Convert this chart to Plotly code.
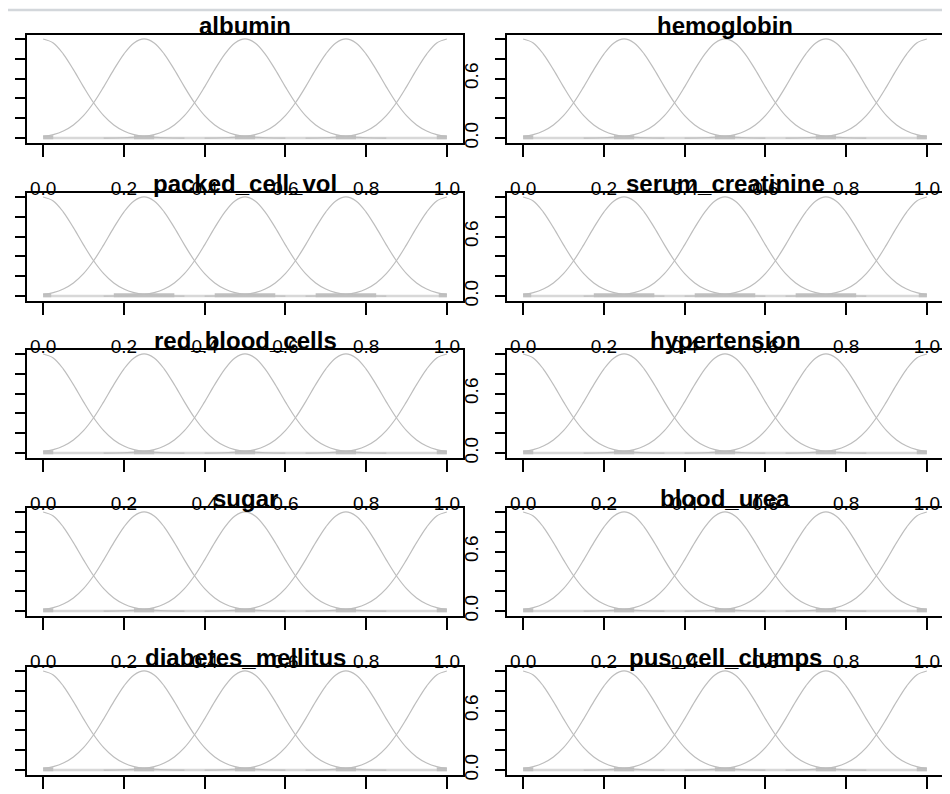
import plotly.graph_objects as go

# ---------------- data ----------------
panel_names = ["albumin", "hemoglobin", "packed_cell_vol", "serum_creatinine",
               "red_blood_cells", "hypertension", "sugar", "blood_urea",
               "diabetes_mellitus", "pus_cell_clumps"]

# centres of the five membership functions
mf_centers = [0.0, 0.25, 0.5, 0.75, 1.0]

# shape of one membership function (offset from centre -> degree)
bell_offsets = [-0.35, -0.3, -0.25, -0.225, -0.2, -0.175, -0.15, -0.125, -0.1, -0.075,
                -0.05, -0.025, 0.0, 0.025, 0.05, 0.075, 0.1, 0.125, 0.15, 0.175,
                0.2, 0.225, 0.25, 0.3, 0.35]
bell_values = [0.0, 0.003, 0.016, 0.035, 0.071, 0.132, 0.226, 0.356, 0.517, 0.690,
               0.848, 0.960, 1.0, 0.960, 0.848, 0.690, 0.517, 0.356, 0.226, 0.132,
               0.071, 0.035, 0.016, 0.003, 0.0]

# grey bands along the bottom of each panel (start, end) per panel
narrow_starts = [0.0, 0.225, 0.475, 0.725, 0.975]
narrow_ends = [0.025, 0.275, 0.525, 0.775, 1.0]
wide_starts = [0.0, 0.175, 0.425, 0.675, 0.98]
wide_ends = [0.02, 0.325, 0.575, 0.825, 1.0]
band_starts = [narrow_starts, narrow_starts, wide_starts, wide_starts, narrow_starts,
               narrow_starts, narrow_starts, narrow_starts, narrow_starts, narrow_starts]
band_ends = [narrow_ends, narrow_ends, wide_ends, wide_ends, narrow_ends,
             narrow_ends, narrow_ends, narrow_ends, narrow_ends, narrow_ends]

x_ticks = [0.0, 0.2, 0.4, 0.6, 0.8, 1.0]
x_tick_labels = ["0.0", "0.2", "0.4", "0.6", "0.8", "1.0"]
y_ticks = [0.0, 0.2, 0.4, 0.6, 0.8, 1.0]
y_tick_labels = ["0.0", "", "", "0.6", "", ""]

# ---------------- layout geometry (pixels, page has an 8px body margin) ----------------
PAGE = 8
W, H = 950 - PAGE, 794 - PAGE
col_left = [27 - PAGE, 507 - PAGE]
col_width = 436
row_top = [35 - PAGE, 193 - PAGE, 350 - PAGE, 508 - PAGE, 667 - PAGE]
row_height = 108
n_rows = len(row_top)

FONT = "Liberation Sans, Arial, sans-serif"
CURVE = "#bdbdbd"

fig = go.Figure()
layout = dict(
    width=W, height=H, margin=dict(l=0, r=0, t=0, b=0, pad=0, autoexpand=False),
    paper_bgcolor="white", plot_bgcolor="white", showlegend=False,
    font=dict(family=FONT, color="black"),
    annotations=[], shapes=[],
)

for i, name in enumerate(panel_names):
    r, c = divmod(i, 2)
    n = i + 1
    xa = "x" if n == 1 else f"x{n}"
    ya = "y" if n == 1 else f"y{n}"

    # baseline
    fig.add_trace(go.Scatter(x=[0.0, 1.0], y=[0.0, 0.0], mode="lines",
                             line=dict(color="#d8d8d8", width=2.5),
                             xaxis=xa, yaxis=ya, hoverinfo="skip"))
    # thicker bands
    for s, e in zip(band_starts[i], band_ends[i]):
        fig.add_trace(go.Scatter(x=[s, e], y=[0.008, 0.008], mode="lines",
                                 line=dict(color="#c0c0c0", width=4),
                                 xaxis=xa, yaxis=ya, hoverinfo="skip"))
    # membership functions
    for ctr in mf_centers:
        xs, ys = [], []
        for off, v in zip(bell_offsets, bell_values):
            xv = ctr + off
            if -1e-9 <= xv <= 1 + 1e-9:
                xs.append(xv)
                ys.append(v)
        fig.add_trace(go.Scatter(x=xs, y=ys, mode="lines",
                                 line=dict(color=CURVE, width=1.2, shape="spline"),
                                 xaxis=xa, yaxis=ya, hoverinfo="skip"))

    x0 = col_left[c] / W
    x1 = min((col_left[c] + col_width) / W, 1.0)
    y1 = 1 - row_top[r] / H
    y0 = 1 - (row_top[r] + row_height) / H

    layout["xaxis" if n == 1 else f"xaxis{n}"] = dict(
        domain=[x0, x1], anchor=ya, range=[-0.04, 1.04], automargin=False,
        showgrid=False, zeroline=False, showline=True, mirror=True,
        linecolor="black", linewidth=1.5,
        ticks="outside", ticklen=12, tickwidth=1.5, tickcolor="black",
        tickvals=x_ticks, ticktext=x_tick_labels, ticklabelstandoff=15,
        showticklabels=(r < n_rows - 1),
        tickfont=dict(size=19, family=FONT, color="black"),
    )
    layout["yaxis" if n == 1 else f"yaxis{n}"] = dict(
        domain=[y0, y1], anchor=xa, range=[-0.05, 1.04], automargin=False,
        showgrid=False, zeroline=False, showline=True, mirror=True,
        linecolor="black", linewidth=1.5,
        ticks="outside", ticklen=10, tickwidth=1.5, tickcolor="black",
        tickvals=y_ticks, ticktext=y_tick_labels, tickangle=-90,
        ticklabelstandoff=10, showticklabels=(c == 1),
        tickfont=dict(size=19, family=FONT, color="black"),
    )
    layout["annotations"].append(dict(
        text=name, xref="paper", yref="paper", x=(x0 + x1) / 2, y=y1,
        xanchor="center", yanchor="bottom", yshift=-6, showarrow=False,
        font=dict(size=24, family=FONT, color="black", weight="bold"),
    ))

layout["shapes"].append(dict(type="line", xref="paper", yref="paper",
                             x0=0, x1=1, y0=1 - 2 / H, y1=1 - 2 / H,
                             line=dict(color="#d3d7db", width=2.5)))

fig.update_layout(**layout)
fig.write_html("out.html")
